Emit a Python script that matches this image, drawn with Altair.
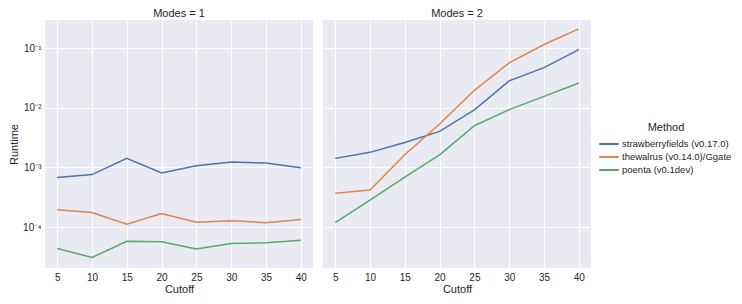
import altair as alt
import pandas as pd

cutoffs = [5, 10, 15, 20, 25, 30, 35, 40]
methods = ["strawberryfields (v0.17.0)", "thewalrus (v0.14.0)/Ggate", "poenta (v0.1dev)"]
colors = ["#4C72B0", "#DD8452", "#55A868"]

# Modes = 1
m1_sf = [6.8e-4, 7.6e-4, 1.42e-3, 8.1e-4, 1.07e-3, 1.23e-3, 1.19e-3, 9.9e-4]
m1_tw = [1.95e-4, 1.76e-4, 1.12e-4, 1.69e-4, 1.21e-4, 1.28e-4, 1.19e-4, 1.34e-4]
m1_po = [4.4e-5, 3.1e-5, 5.8e-5, 5.7e-5, 4.3e-5, 5.3e-5, 5.5e-5, 6.05e-5]
# Modes = 2
m2_sf = [1.42e-3, 1.79e-3, 2.62e-3, 4.02e-3, 9.2e-3, 2.82e-2, 4.7e-2, 9.4e-2]
m2_tw = [3.7e-4, 4.2e-4, 1.63e-3, 5.35e-3, 1.96e-2, 5.65e-2, 1.146e-1, 2.1e-1]
m2_po = [1.19e-4, 2.84e-4, 6.9e-4, 1.63e-3, 5.0e-3, 9.3e-3, 1.55e-2, 2.6e-2]

series = {
    (1, methods[0]): m1_sf, (1, methods[1]): m1_tw, (1, methods[2]): m1_po,
    (2, methods[0]): m2_sf, (2, methods[1]): m2_tw, (2, methods[2]): m2_po,
}
rows = []
for (modes, method), vals in series.items():
    for c, v in zip(cutoffs, vals):
        rows.append({"Modes": modes, "Method": method, "Cutoff": c, "Runtime": v})
df = pd.DataFrame(rows)

ylabel_expr = (
    "round(log(datum.value)/LN10) == -1 ? '10⁻¹' : "
    "round(log(datum.value)/LN10) == -2 ? '10⁻²' : "
    "round(log(datum.value)/LN10) == -3 ? '10⁻³' : "
    "round(log(datum.value)/LN10) == -4 ? '10⁻⁴' : ''"
)

font = "Liberation Sans"

chart = alt.Chart(df).mark_line(strokeWidth=1.5).encode(
    x=alt.X("Cutoff:Q",
            scale=alt.Scale(domain=[3.25, 41.75], nice=False, zero=False),
            axis=alt.Axis(values=cutoffs, title="Cutoff", labelPadding=4, titlePadding=1)),
    y=alt.Y("Runtime:Q",
            scale=alt.Scale(type="log", domain=[2.07e-5, 0.295], nice=False),
            axis=alt.Axis(values=[1e-4, 1e-3, 1e-2, 1e-1], labelExpr=ylabel_expr, title="Runtime",
                          labelPadding=4, titlePadding=3)),
    color=alt.Color("Method:N",
                    scale=alt.Scale(domain=methods, range=colors),
                    sort=methods,
                    legend=alt.Legend(title="Method", symbolType="M-1.45,0H1.45", symbolStrokeWidth=2,
                                      symbolSize=180, titleAnchor="middle", titleFontWeight="normal",
                                      titleFontSize=11, labelFontSize=9.5, labelFont=font, titleFont=font,
                                      labelOffset=5, titlePadding=3,
                                      orient="none", legendX=556, legendY=102, rowPadding=0)),
).properties(width=268, height=248).facet(
    column=alt.Column("Modes:O",
                      header=alt.Header(labelExpr="'Modes = ' + datum.value", title=None,
                                        labelFontSize=11, labelFont=font, labelColor="#262626",
                                        labelPadding=1)),
    spacing=10,
).configure_view(
    fill="#EAEAF2", stroke=None
).configure_axis(
    domain=False, ticks=False, gridColor="white", gridWidth=1, gridOpacity=1,
    labelFont=font, titleFont=font, labelFontSize=10, titleFontSize=11,
    titleFontWeight="normal", labelColor="#262626", titleColor="#262626"
).configure_legend(
    labelColor="#262626", titleColor="#262626"
).properties(padding={"left": 0, "top": 0, "right": 0, "bottom": 0})

chart.save("out.html", embed_options={"renderer": "svg", "actions": False})
